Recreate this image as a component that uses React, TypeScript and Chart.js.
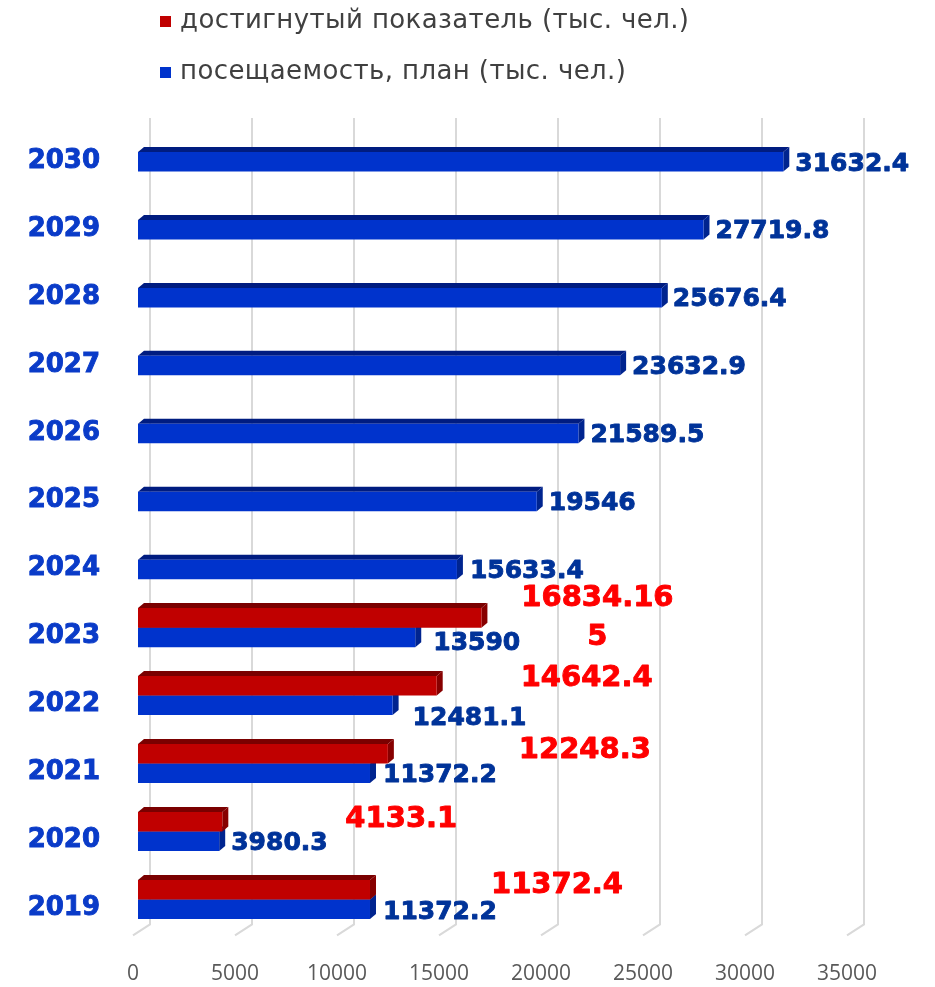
import React, { useEffect, useRef } from 'react';
import { Chart, registerables } from 'chart.js';

Chart.register(...registerables);

// ---- data ----
const years = ['2019', '2020', '2021', '2022', '2023', '2024', '2025', '2026', '2027', '2028', '2029', '2030'];
const achieved: (number | null)[] = [11372.4, 4133.1, 12248.3, 14642.4, 16834.165, null, null, null, null, null, null, null];
const planned: number[] = [11372.2, 3980.3, 11372.2, 12481.1, 13590, 15633.4, 19546, 21589.5, 23632.9, 25676.4, 27719.8, 31632.4];
const seriesNames = ['достигнутый показатель (тыс. чел.)', 'посещаемость, план (тыс. чел.)'];
const xMin = 0;
const xMax = 35000;
const xStep = 5000;

// ---- label nudges (px, per year, chronological) ----
const achievedLabelShift: [number, number][] = [[187, -4], [179, -2], [197, -3], [150, -7], [116, 0]];
const plannedLabelShift: [number, number][] = [[13, 3], [12, 2], [13, 2], [20, 13], [18, 6], [13, 2], [12, 2], [12, 2], [12, 2], [11, 2], [12, 2], [12, 3]];

const RED = '#C00000';
const RED_TOP = '#7A0000';
const RED_SIDE = '#870000';
const BLUE = '#0033CC';
const BLUE_TOP = '#001C80';
const BLUE_SIDE = '#00248F';
const DEPTH_X = 6;
const DEPTH_Y = 5;

const n = years.length;
const rev = <T,>(a: T[]) => [...a].reverse();

const gridPlugin = {
  id: 'grid3d',
  beforeDatasetsDraw(chart: any) {
    const { ctx, chartArea, scales } = chart;
    const xs = scales.x;
    ctx.save();
    ctx.strokeStyle = '#D9D9D9';
    ctx.lineWidth = 2;
    xs.ticks.forEach((t: any) => {
      const px = xs.getPixelForValue(t.value);
      ctx.beginPath();
      ctx.moveTo(px + 12, chartArea.top);
      ctx.lineTo(px + 12, chartArea.bottom - 9);
      ctx.lineTo(px - 5, chartArea.bottom + 2);
      ctx.stroke();
    });
    ctx.restore();
  },
};

const facesPlugin = {
  id: 'faces3d',
  beforeDatasetsDraw(chart: any) {
    const { ctx } = chart;
    ctx.save();
    const order = [1, 0];
    order.forEach((di) => {
      const meta = chart.getDatasetMeta(di);
      const topC = di === 0 ? RED_TOP : BLUE_TOP;
      const sideC = di === 0 ? RED_SIDE : BLUE_SIDE;
      meta.data.forEach((el: any, i: number) => {
        const v = chart.data.datasets[di].data[i];
        if (v === null || v === undefined) return;
        const { x, y, base, height } = el.getProps(['x', 'y', 'base', 'height'], true);
        const top = y - height / 2;
        const bottom = y + height / 2;
        ctx.fillStyle = topC;
        ctx.beginPath();
        ctx.moveTo(base, top);
        ctx.lineTo(base + DEPTH_X, top - DEPTH_Y);
        ctx.lineTo(x + DEPTH_X, top - DEPTH_Y);
        ctx.lineTo(x, top);
        ctx.closePath();
        ctx.fill();
        ctx.fillStyle = sideC;
        ctx.beginPath();
        ctx.moveTo(x, top);
        ctx.lineTo(x + DEPTH_X, top - DEPTH_Y);
        ctx.lineTo(x + DEPTH_X, bottom - DEPTH_Y);
        ctx.lineTo(x, bottom);
        ctx.closePath();
        ctx.fill();
      });
    });
    ctx.restore();
  },
};

const drawBoldText = (ctx: any, s: string, x: number, y: number) => {
  ctx.fillText(s, x, y);
  ctx.strokeText(s, x, y);
};

const labelsPlugin = {
  id: 'valueLabels',
  afterDatasetsDraw(chart: any) {
    const { ctx } = chart;
    ctx.save();
    ctx.textBaseline = 'middle';
    ctx.lineWidth = 0.9;
    ctx.lineJoin = 'round';
    // planned (blue)
    const mb = chart.getDatasetMeta(1);
    ctx.font = 'bold 25px "DejaVu Sans"';
    ctx.fillStyle = '#003399';
    ctx.strokeStyle = '#003399';
    ctx.textAlign = 'left';
    mb.data.forEach((el: any, i: number) => {
      const yi = n - 1 - i;
      const v = planned[yi];
      const [dx, dy] = plannedLabelShift[yi];
      drawBoldText(ctx, String(v), el.x + dx, el.y + dy);
    });
    // achieved (red)
    const mr = chart.getDatasetMeta(0);
    ctx.font = 'bold 29px "DejaVu Sans"';
    ctx.fillStyle = '#FF0000';
    ctx.strokeStyle = '#FF0000';
    ctx.textAlign = 'center';
    mr.data.forEach((el: any, i: number) => {
      const yi = n - 1 - i;
      const v = achieved[yi];
      if (v === null) return;
      const s = String(v);
      const lines: string[] = [];
      for (let k = 0; k < s.length; k += 8) lines.push(s.slice(k, k + 8));
      const [dx, dy] = achievedLabelShift[yi];
      const lh = 39;
      const cy = el.y + dy;
      lines.forEach((ln, li) => {
        drawBoldText(ctx, ln, el.x + dx, cy + (li - (lines.length - 1) / 2) * lh);
      });
    });
    ctx.restore();
  },
};

const legendPlugin = {
  id: 'customLegend',
  afterDraw(chart: any) {
    const { ctx } = chart;
    ctx.save();
    ctx.textBaseline = 'middle';
    ctx.textAlign = 'left';
    ctx.font = '26px "DejaVu Sans"';
    try { (ctx as any).letterSpacing = '0.4px'; } catch (e) {}
    chart.data.datasets.forEach((ds: any, i: number) => {
      const cy = 21 + i * 51;
      ctx.fillStyle = ds.backgroundColor;
      ctx.fillRect(160, cy - 5, 11, 11);
      ctx.fillStyle = '#404040';
      ctx.fillText(ds.label, 180, cy);
    });
    ctx.restore();
  },
};

export default function App() {
  const ref = useRef<HTMLCanvasElement | null>(null);
  useEffect(() => {
    if (!ref.current) return;
    const chart = new Chart(ref.current, {
      type: 'bar',
      data: {
        labels: rev(years),
        datasets: [
          { label: seriesNames[0], data: rev(achieved), backgroundColor: RED, borderWidth: 0 },
          { label: seriesNames[1], data: rev(planned), backgroundColor: BLUE, borderWidth: 0 },
        ],
      },
      options: {
        indexAxis: 'y',
        animation: false,
        responsive: false,
        devicePixelRatio: 1,
        datasets: { bar: { categoryPercentage: 0.575, barPercentage: 1 } },
        layout: { padding: { top: 118, right: 83, bottom: 0, left: 0 } },
        plugins: { legend: { display: false }, tooltip: { enabled: false }, title: { display: false } },
        scales: {
          x: {
            type: 'linear',
            position: 'bottom',
            min: xMin,
            max: xMax,
            grid: { display: false, drawTicks: false },
            border: { display: false },
            ticks: {
              stepSize: xStep,
              color: '#595959',
              font: { family: '"Open Sans"', size: 21 },
              padding: 28,
              labelOffset: -5,
              maxRotation: 0,
              autoSkip: false,
              callback: (v: any) => String(v),
            },
            afterFit(scale: any) {
              scale.height = 52;
            },
          },
          y: {
            type: 'category',
            grid: { display: false, drawTicks: false },
            border: { display: false },
            ticks: {
              color: '#0A3BC8',
              font: { family: '"DejaVu Sans"', size: 26, weight: 'bold' },
              padding: 38,
              labelOffset: 9,
              autoSkip: false,
              textStrokeColor: '#0A3BC8',
              textStrokeWidth: 0.9,
            },
            afterFit(scale: any) {
              scale.width = 138;
            },
          },
        },
      },
      plugins: [gridPlugin, facesPlugin, labelsPlugin, legendPlugin],
    } as any);
    return () => chart.destroy();
  }, []);
  return (
    <div style={{ position: 'absolute', left: 0, top: 0, width: 935, height: 987, background: '#fff' }}>
      <canvas ref={ref} width={935} height={987} style={{ display: 'block' }} />
    </div>
  );
}
